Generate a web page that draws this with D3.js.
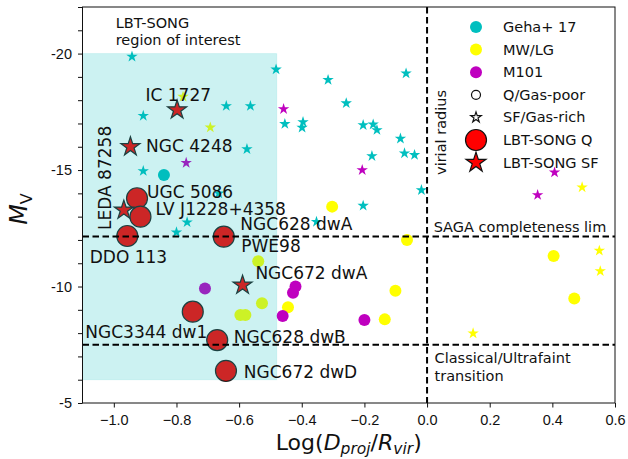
<!DOCTYPE html>
<html>
<head>
<meta charset="utf-8">
<script src="https://cdn.jsdelivr.net/npm/d3@7"></script>
<style>
  body { margin: 0; background: #fff; }
  svg { display: block; font-family: "DejaVu Sans", sans-serif; }
  .axis text { font-size: 14.5px; fill: #111; }
  .axis line { stroke: #111; }
</style>
</head>
<body>
<div class="root"></div>
<script>
// --- data: [log(Dproj/Rvir), M_V] ---
const gehaSF = [
  [-0.942, -19.87], [-0.482, -19.32], [-0.906, -17.33], [-0.641, -17.75],
  [-0.564, -17.75], [-0.575, -15.90], [-0.906, -14.96], [-0.766, -12.76],
  [-0.800, -12.33], [-0.665, -14.00], [-0.316, -18.87], [-0.067, -19.15],
  [-0.258, -17.87], [-0.454, -16.98], [-0.396, -17.06], [-0.399, -16.82],
  [-0.204, -16.93], [-0.172, -16.96], [-0.160, -16.72], [-0.085, -16.35],
  [-0.176, -15.60], [-0.072, -15.72], [-0.040, -15.65], [-0.018, -14.14],
  [-0.204, -13.47], [-0.353, -12.78]
];
const gehaQ = [[-0.840, -14.79]];

const mwSF = [
  [-0.779, -18.15], [-0.692, -16.83], [0.495, -14.26], [0.550, -11.54],
  [0.553, -10.66], [0.147, -7.99]
];
const mwQ = [
  [-0.303, -13.43], [-0.064, -12.00], [0.404, -11.31], [0.470, -9.49],
  [-0.101, -9.82], [-0.135, -8.59], [-0.539, -11.09], [-0.527, -9.28],
  [-0.444, -9.11], [-0.596, -8.78], [-0.580, -8.78]
];

const m101SF = [
  [-0.458, -17.62], [-0.207, -15.00], [0.407, -14.90], [0.353, -13.93],
  [-0.769, -15.31]
];
const m101Q = [
  [-0.709, -9.92], [-0.420, -10.00], [-0.428, -9.73], [-0.461, -8.73],
  [-0.200, -8.56]
];

const lbtQ = [
  { name: 'UGC 5086', x: -0.926, y: -13.79 },
  { name: 'LV J1228+4358', x: -0.915, y: -13.00 },
  { name: 'DDO 113', x: -0.957, y: -12.17 },
  { name: 'NGC628 dwA', x: -0.649, y: -12.14 },
  { name: 'NGC3344 dw1', x: -0.748, y: -8.92 },
  { name: 'NGC628 dwB', x: -0.670, y: -7.70 },
  { name: 'NGC672 dwD', x: -0.642, y: -6.38 }
];
const lbtSF = [
  { name: 'IC 1727', x: -0.798, y: -17.58 },
  { name: 'NGC 4248', x: -0.947, y: -16.00 },
  { name: 'LEDA 87258', x: -0.968, y: -13.28 },
  { name: 'NGC672 dwA', x: -0.589, y: -10.06 }
];

// label anchors (data coords)
const lbtLabels = [
  { text: 'IC 1727', x: -0.899, y: -17.96 },
  { text: 'NGC 4248', x: -0.897, y: -15.77 },
  { text: 'UGC 5086', x: -0.894, y: -13.80 },
  { text: 'LV J1228+4358', x: -0.867, y: -13.07 },
  { text: 'LEDA 87258', x: -1.010, y: -12.43, rotate: true },
  { text: 'DDO 113', x: -1.077, y: -11.01 },
  { text: 'NGC628 dwA', x: -0.596, y: -12.42 },
  { text: 'PWE98', x: -0.593, y: -11.48 },
  { text: 'NGC672 dwA', x: -0.548, y: -10.32 },
  { text: 'NGC3344 dw1', x: -1.091, y: -7.79 },
  { text: 'NGC628 dwB', x: -0.617, y: -7.57 },
  { text: 'NGC672 dwD', x: -0.585, y: -6.07 }
];

const regionX = [-1.1, -0.48];
const regionY = [-20, -6];
const virialX = 0;
const sagaLim = -12.15;
const ultrafaintLim = -7.5;

const xTicks = [-1.0, -0.8, -0.6, -0.4, -0.2, 0.0, 0.2, 0.4, 0.6];
const yTicks = d3.range(-22, -4);

const legendItems = [
  { label: 'Geha+ 17', kind: 'circle', color: '#00bfbf' },
  { label: 'MW/LG', kind: 'circle', color: '#ffff00' },
  { label: 'M101', kind: 'circle', color: '#bf00bf' },
  { label: 'Q/Gas-poor', kind: 'open-circle' },
  { label: 'SF/Gas-rich', kind: 'open-star' },
  { label: 'LBT-SONG Q', kind: 'big-circle' },
  { label: 'LBT-SONG SF', kind: 'big-star' }
];

// --- chart ---
const svgWidth = 628;
const svgHeight = 459;
const plot = { left: 82.5, right: 615, top: 7, bottom: 403 };

const svg = d3.select('.root')
  .append('svg')
  .attr('width', svgWidth)
  .attr('height', svgHeight);

const x = d3.scaleLinear().domain([-1.1, 0.6]).range([plot.left, plot.right]);
const y = d3.scaleLinear().domain([-22, -5]).range([plot.top, plot.bottom]);

const star = r => d3.symbol().type(d3.symbolStar).size(r * r / 0.8908)();

const cyan = '#00bfbf', yellow = '#ffff00', magenta = '#bf00bf';

function drawCircles(data, color, r) {
  svg.append('g').selectAll('circle')
    .data(data).enter().append('circle')
    .attr('cx', d => x(d[0]))
    .attr('cy', d => y(d[1]))
    .attr('r', r)
    .attr('fill', color);
}
function drawStars(data, color, r) {
  svg.append('g').selectAll('path')
    .data(data).enter().append('path')
    .attr('transform', d => `translate(${x(d[0])},${y(d[1])})`)
    .attr('d', star(r))
    .attr('fill', color);
}

drawStars(gehaSF, cyan, 6);
drawCircles(gehaQ, cyan, 6);
drawCircles(mwQ, yellow, 6);
drawStars(mwSF, yellow, 6);
drawCircles(m101Q, magenta, 6);
drawStars(m101SF, magenta, 6);

svg.append('g').selectAll('circle')
  .data(lbtQ).enter().append('circle')
  .attr('cx', d => x(d.x))
  .attr('cy', d => y(d.y))
  .attr('r', 10.5)
  .attr('fill', 'red')
  .attr('stroke', '#222')
  .attr('stroke-width', 1.2);

svg.append('g').selectAll('path')
  .data(lbtSF).enter().append('path')
  .attr('transform', d => `translate(${x(d.x)},${y(d.y)})`)
  .attr('d', star(10))
  .attr('fill', 'red')
  .attr('stroke', '#222')
  .attr('stroke-width', 1.2);

// region of interest, drawn over the points
svg.append('rect')
  .attr('x', x(regionX[0]))
  .attr('y', y(regionY[0]))
  .attr('width', x(regionX[1]) - x(regionX[0]))
  .attr('height', y(regionY[1]) - y(regionY[0]))
  .attr('fill', cyan)
  .attr('fill-opacity', 0.2)
  .attr('stroke', cyan)
  .attr('stroke-opacity', 0.12);

// dashed reference lines
const dash = '6.5,3.5';
svg.append('line')
  .attr('x1', x(virialX)).attr('x2', x(virialX))
  .attr('y1', plot.top).attr('y2', plot.bottom)
  .attr('stroke', '#000').attr('stroke-width', 2).attr('stroke-dasharray', dash);
[sagaLim, ultrafaintLim].forEach(v => {
  svg.append('line')
    .attr('x1', plot.left).attr('x2', plot.right)
    .attr('y1', y(v)).attr('y2', y(v))
    .attr('stroke', '#000').attr('stroke-width', 2).attr('stroke-dasharray', dash);
});

// axes
svg.append('g')
  .attr('class', 'axis')
  .attr('transform', `translate(0,${plot.bottom})`)
  .call(d3.axisBottom(x).tickValues(xTicks).tickFormat(d3.format('.1f')).tickSize(4.5).tickPadding(7).tickSizeOuter(0))
  .call(g => g.select('.domain').remove());

svg.append('g')
  .attr('class', 'axis')
  .attr('transform', `translate(${plot.left},0)`)
  .call(d3.axisLeft(y).tickValues(yTicks).tickFormat(d => d % 5 === 0 ? String(d) : '').tickSize(4.5).tickPadding(6).tickSizeOuter(0))
  .call(g => g.select('.domain').remove());

svg.append('rect')
  .attr('x', plot.left).attr('y', plot.top)
  .attr('width', plot.right - plot.left).attr('height', plot.bottom - plot.top)
  .attr('fill', 'none').attr('stroke', '#111').attr('stroke-width', 1);

// axis titles
const xTitle = svg.append('text')
  .attr('x', (plot.left + plot.right) / 2)
  .attr('y', 450)
  .attr('text-anchor', 'middle')
  .style('font-size', '22px')
  .attr('fill', '#111');
xTitle.append('tspan').text('Log(');
xTitle.append('tspan').attr('font-style', 'italic').text('D');
xTitle.append('tspan').attr('font-style', 'italic').attr('font-size', '15.5px').attr('dy', 4).text('proj');
xTitle.append('tspan').attr('dy', -4).text('/');
xTitle.append('tspan').attr('font-style', 'italic').text('R');
xTitle.append('tspan').attr('font-style', 'italic').attr('font-size', '15.5px').attr('dy', 4).text('vir');
xTitle.append('tspan').attr('dy', -4).text(')');

const yTitle = svg.append('text')
  .attr('transform', `translate(27,${(plot.top + plot.bottom) / 2 + 4}) rotate(-90)`)
  .attr('text-anchor', 'middle')
  .style('font-size', '24px')
  .attr('fill', '#111');
yTitle.append('tspan').attr('font-style', 'italic').text('M');
yTitle.append('tspan').attr('font-size', '16px').attr('dy', 5).text('V');

// galaxy labels
svg.append('g').selectAll('text')
  .data(lbtLabels).enter().append('text')
  .attr('transform', d => `translate(${x(d.x)},${y(d.y)})` + (d.rotate ? ' rotate(-90)' : ''))
  .style('font-size', '17px')
  .attr('fill', '#111')
  .text(d => d.text);

// annotations
const note = (px, py, lines, rotate) => {
  const t = svg.append('text')
    .attr('transform', `translate(${x(px)},${y(py)})` + (rotate ? ' rotate(-90)' : ''))
    .style('font-size', '14.5px')
    .attr('fill', '#111');
  lines.forEach((l, i) => t.append('tspan').attr('x', 0).attr('dy', i ? 17.5 : 0).text(l));
};
note(-0.994, -21.10, ['LBT-SONG', 'region of interest']);
note(0.062, -14.79, ['virial radius'], true);
note(0.021, -12.34, ['SAGA completeness lim']);
note(0.024, -6.71, ['Classical/Ultrafaint', 'transition']);

// legend
const legend = svg.append('g').attr('transform', 'translate(476,27)');
const row = legend.selectAll('g')
  .data(legendItems).enter().append('g')
  .attr('transform', (d, i) => `translate(0,${i * 22.6})`);
row.each(function (d) {
  const g = d3.select(this);
  if (d.kind === 'circle') g.append('circle').attr('r', 6).attr('fill', d.color);
  if (d.kind === 'open-circle') g.append('circle').attr('r', 4.5).attr('fill', 'none').attr('stroke', '#111').attr('stroke-width', 1.2);
  if (d.kind === 'open-star') g.append('path').attr('d', star(5.5)).attr('fill', 'none').attr('stroke', '#111').attr('stroke-width', 1.2);
  if (d.kind === 'big-circle') g.append('circle').attr('r', 10.5).attr('fill', 'red').attr('stroke', '#111').attr('stroke-width', 1.2);
  if (d.kind === 'big-star') g.append('path').attr('d', star(10.5)).attr('fill', 'red').attr('stroke', '#111').attr('stroke-width', 1.2);
});
row.append('text')
  .attr('x', 27)
  .attr('dy', '0.35em')
  .style('font-size', '14.5px')
  .attr('fill', '#111')
  .text(d => d.label);
</script>
</body>
</html>
